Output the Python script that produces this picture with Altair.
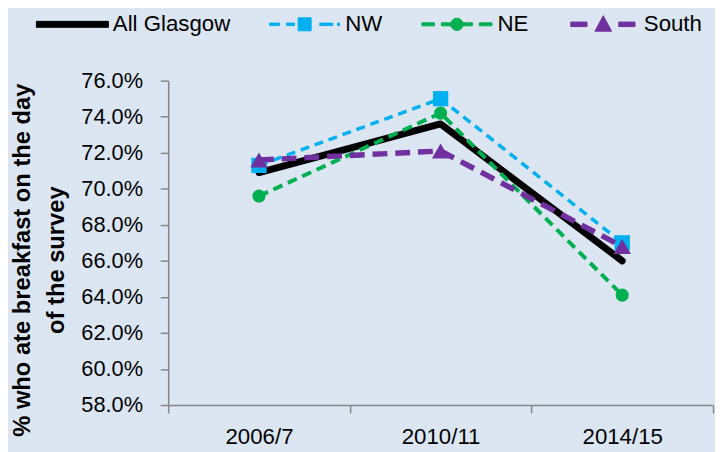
import math
import altair as alt
import pandas as pd

# ---- data ----
periods = ["2006/7", "2010/11", "2014/15"]
series = ["All Glasgow", "NW", "NE", "South"]
all_glasgow = [70.9, 73.6, 66.0]
nw = [71.3, 75.0, 67.0]
ne = [69.6, 74.2, 64.1]
south = [71.6, 72.1, 66.8]
y_ticks = [58, 60, 62, 64, 66, 68, 70, 72, 74, 76]

values = {"All Glasgow": all_glasgow, "NW": nw, "NE": ne, "South": south}
rows = []
for s in series:
    for p, v in zip(periods, values[s]):
        rows.append({"series": s, "period": p, "value": v})
df = pd.DataFrame(rows)

# ---- styles ----
colors = ["#000000", "#00B0F0", "#00B050", "#7030A0"]
line_style = {
    "All Glasgow": dict(strokeWidth=7, strokeCap="round", strokeJoin="round"),
    "NW": dict(strokeWidth=3.5, strokeDash=[9, 6]),
    "NE": dict(strokeWidth=4, strokeDash=[10, 6]),
    "South": dict(strokeWidth=5.5, strokeDash=[15, 8]),
}
point_style = {
    "NW": dict(shape="square", size=240),
    "NE": dict(shape="circle", size=175),
    "South": dict(shape="triangle-up", size=310),
}

FONT = "Liberation Sans"
AXIS_GRAY = "#868686"


def rect(x0, x1, h):
    return f"M{x0},{-h}L{x1},{-h}L{x1},{h}L{x0},{h}Z"


def disc(r, n=20):
    pts = [
        (round(r * math.cos(2 * math.pi * i / n), 4), round(r * math.sin(2 * math.pi * i / n), 4))
        for i in range(n)
    ]
    return "M" + "L".join(f"{x},{y}" for x, y in pts) + "Z"


leg_paths = {
    "All Glasgow": rect(-1, 1, 0.082),
    "NW": rect(-0.97, -0.7, 0.034) + rect(-0.5, -0.28, 0.034)
    + "M-0.18,-0.18L0.18,-0.18L0.18,0.18L-0.18,0.18Z"
    + rect(0.42, 0.78, 0.034) + rect(0.91, 0.97, 0.034),
    "NE": rect(-0.97, -0.62, 0.041) + rect(-0.43, -0.1, 0.041) + rect(0.1, 0.43, 0.041)
    + rect(0.62, 0.97, 0.041) + disc(0.17),
    "South": rect(-0.9, -0.45, 0.062) + rect(0.43, 0.88, 0.062)
    + "M0,-0.24L0.23,0.19L-0.23,0.19Z",
}
shape_expr = " : ".join(
    f"datum.value === '{k}' ? '{v}'" for k, v in list(leg_paths.items())[:-1]
) + f" : '{leg_paths['South']}'"

legend = alt.Legend(
    title=None,
    orient="none",
    direction="horizontal",
    legendX=-134,
    legendY=-69,
    clipHeight=24,
    symbolSize=5329,
    symbolType=alt.ExprRef(expr=shape_expr),
    symbolFillColor=alt.ExprRef(expr="scale('color', datum.value)"),
    symbolStrokeColor=alt.ExprRef(expr="scale('color', datum.value)"),
    symbolStrokeWidth=1,
    symbolOpacity=1,
    labelFont=FONT,
    labelFontSize=22.5,
    labelColor="#000000",
    labelOffset=4,
    columnPadding=38,
)

color_enc = alt.Color(
    "series:N",
    scale=alt.Scale(domain=series, range=colors),
    legend=legend,
)

x_enc = alt.X(
    "period:N",
    sort=periods,
    bandPosition=0.5,
    scale=alt.Scale(type="band", paddingInner=0, paddingOuter=0),
    axis=alt.Axis(
        title=None,
        tickBand="extent",
        labelAngle=0,
        labelFont=FONT,
        labelFontSize=22.5,
        labelColor="#000000",
        labelPadding=13,
        tickSize=8,
        tickColor=AXIS_GRAY,
        tickWidth=1.5,
        domainColor=AXIS_GRAY,
        domainWidth=1.5,
        grid=False,
    ),
)

y_enc = alt.Y(
    "value:Q",
    scale=alt.Scale(domain=[58, 76], nice=False, zero=False),
    axis=alt.Axis(
        values=y_ticks,
        labelExpr="format(datum.value, '.1f') + '%'",
        title=["% who ate breakfast on the day", "of the survey"],
        titleFont=FONT,
        titleFontSize=24,
        titleFontWeight="bold",
        titleColor="#000000",
        titleLineHeight=34,
        titleAngle=270,
        titleAlign="center",
        titleBaseline="bottom",
        titleX=-135,
        titleY=181,
        labelFont=FONT,
        labelFontSize=22,
        labelColor="#000000",
        labelPadding=18,
        tickSize=8,
        tickColor=AXIS_GRAY,
        tickWidth=1.5,
        domainColor=AXIS_GRAY,
        domainWidth=1.5,
        grid=False,
    ),
)

layers = []
for s in series:
    base = alt.Chart(df).transform_filter(alt.datum.series == s)
    layers.append(
        base.mark_line(**line_style[s]).encode(x=x_enc, y=y_enc, color=color_enc)
    )
    if s in point_style:
        layers.append(
            base.mark_point(filled=True, opacity=1, **point_style[s]).encode(
                x=x_enc, y=y_enc, color=color_enc
            )
        )

chart = (
    alt.layer(*layers)
    .properties(
        width=551,
        height=328,
        autosize=alt.AutoSizeParams(type="none"),
        padding={"left": 162, "top": 71, "right": 2, "bottom": 45},
        background="#DCE6F2",
    )
    .configure_view(stroke=None)
)

chart.save("out.html", embed_options={"renderer": "svg", "actions": False})
